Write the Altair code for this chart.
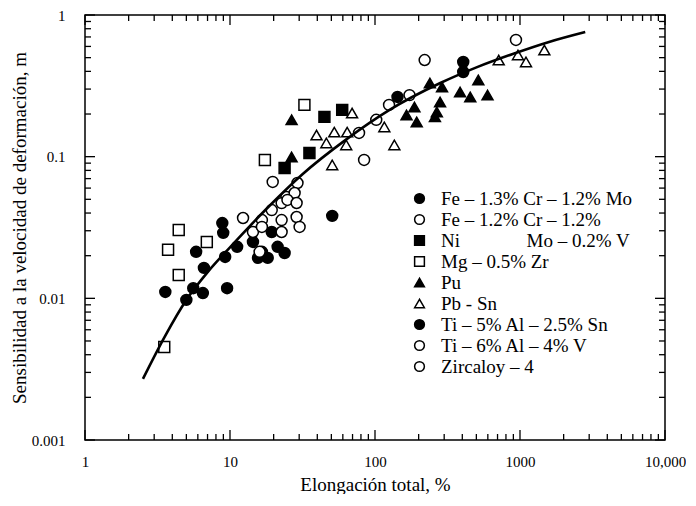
import altair as alt
import pandas as pd

# ---------------- data ----------------
series = [
    "Fe – 1.3% Cr – 1.2% Mo",
    "Fe – 1.2% Cr – 1.2%",
    "Ni" + "\u00a0" * 14 + "Mo – 0.2% V",
    "Mg – 0.5% Zr",
    "Pu",
    "Pb - Sn",
    "Ti – 5% Al – 2.5% Sn",
    "Ti – 6% Al – 4% V",
    "Zircaloy – 4",
]
shapes = ["circle", "circle", "square", "square", "triangle-up", "triangle-up",
          "circle", "circle", "circle"]
fills = ["black", "white", "black", "white", "black", "white", "black", "white", "white"]
strokes = ["black"] * 9

fe13_x = [3.58, 5.0, 5.58, 6.5, 6.61, 9.55, 5.84, 9.26, 8.85, 8.98, 11.2, 14.4,
          16.6, 19.4, 21.3, 18.2, 15.6, 23.8, 50.7]
fe13_y = [0.0111, 0.00975, 0.0118, 0.0109, 0.0164, 0.0118, 0.0213, 0.0196, 0.034,
          0.029, 0.0231, 0.025, 0.0213, 0.0294, 0.0231, 0.0193, 0.0193, 0.0209, 0.0382]

fe12_x = [77.6, 102, 125, 173]
fe12_y = [0.147, 0.182, 0.232, 0.272]

ni_x = [44.8, 59.4, 35.3, 23.8]
ni_y = [0.191, 0.214, 0.106, 0.0832]

mg_x = [32.6, 17.4, 4.43, 3.74, 4.43, 6.92, 3.52]
mg_y = [0.232, 0.0948, 0.0304, 0.022, 0.0146, 0.025, 0.00454]

pu_x = [26.6, 26.6, 239, 290, 386, 454, 516, 597, 281, 267, 187, 165, 194, 259]
pu_y = [0.182, 0.0995, 0.331, 0.31, 0.286, 0.264, 0.348, 0.272, 0.243, 0.207,
        0.224, 0.197, 0.176, 0.191]

pbsn_x = [39.5, 52.4, 64.3, 46.2, 63.3, 50.7, 69.5, 116, 136, 713, 968, 1100, 1472]
pbsn_y = [0.142, 0.149, 0.149, 0.125, 0.121, 0.0874, 0.203, 0.162, 0.121, 0.481,
          0.522, 0.466, 0.566]

ti5_x = [143, 406, 406]
ti5_y = [0.264, 0.466, 0.396]

ti6_x = [12.3, 16.6, 19.7, 29.2, 24.5, 27.9, 22.7, 24.9, 28.8, 19.4, 22.7, 28.8,
         30.2, 14.4, 16.6, 22.7, 16.0]
ti6_y = [0.0369, 0.0357, 0.0663, 0.0652, 0.052, 0.0554, 0.047, 0.0495, 0.0471,
         0.042, 0.0357, 0.0375, 0.0319, 0.0294, 0.0319, 0.0294, 0.0213]

zirc_x = [84.1, 220, 938]
zirc_y = [0.0948, 0.481, 0.667]

curve_x = [2.51, 3.55, 5.01, 7.08, 10, 17.8, 31.6, 63.1, 126, 282, 501, 891, 1585, 2818]
curve_y = [0.0027, 0.00537, 0.00977, 0.0155, 0.0229, 0.0427, 0.0752, 0.132, 0.214,
           0.331, 0.427, 0.531, 0.646, 0.759]

x_ticks = [1, 10, 100, 1000, 10000]
y_ticks = [0.001, 0.01, 0.1, 1]

# ---------------- tables ----------------
all_x = [fe13_x, fe12_x, ni_x, mg_x, pu_x, pbsn_x, ti5_x, ti6_x, zirc_x]
all_y = [fe13_y, fe12_y, ni_y, mg_y, pu_y, pbsn_y, ti5_y, ti6_y, zirc_y]
rows = []
for name, xs, ys in zip(series, all_x, all_y):
    for a, b in zip(xs, ys):
        rows.append({"x": a, "y": b, "series": name})
pts = pd.DataFrame(rows)
curve = pd.DataFrame({"x": curve_x, "y": curve_y})

minor_x = [k * d for d in x_ticks[:-1] for k in range(2, 10)]
minor_y = [k * d for d in y_ticks[:-1] for k in range(2, 10)]
xmaj = pd.DataFrame({"x": x_ticks})
xmin = pd.DataFrame({"x": minor_x})
ymaj = pd.DataFrame({"y": y_ticks})
ymin = pd.DataFrame({"y": minor_y})

W, H = 580, 425
FONT = "Liberation Serif"

xscale = alt.Scale(type="log", domain=[1, 10000], nice=False)
yscale = alt.Scale(type="log", domain=[0.001, 1], nice=False)

leg = alt.Legend(
    title=None, orient="none", legendX=325, legendY=174,
    labelFont=FONT, labelFontSize=19, labelColor="black", labelLimit=0,
    labelOffset=12, symbolSize=95, symbolStrokeColor="black",
    symbolStrokeWidth=1.5, rowPadding=1, padding=0,
)

points = alt.Chart(pts).mark_point(filled=True, size=120, strokeWidth=1.5,
                                   opacity=1).encode(
    x=alt.X("x:Q", scale=xscale, title="Elongación total, %",
            axis=alt.Axis(values=x_ticks, grid=False, domain=False, ticks=False,
                          labelExpr="datum.value >= 10000 ? '10,000' : format(datum.value, 'd')",
                          labelFont=FONT, labelFontSize=15, labelColor="black",
                          labelPadding=14, labelFlush=False,
                          titleFont=FONT, titleFontSize=19, titleFontWeight="normal",
                          titleColor="black", titlePadding=6)),
    y=alt.Y("y:Q", scale=yscale, title="Sensibilidad a la velocidad de deformación, m",
            axis=alt.Axis(values=y_ticks, grid=False, domain=False, ticks=False,
                          labelExpr="format(datum.value, '~g')",
                          labelFont=FONT, labelFontSize=15, labelColor="black",
                          labelPadding=20, labelFlush=False,
                          titleFont=FONT, titleFontSize=19, titleFontWeight="normal",
                          titleColor="black", titlePadding=2)),
    shape=alt.Shape("series:N", scale=alt.Scale(domain=series, range=shapes), legend=leg),
    fill=alt.Fill("series:N", scale=alt.Scale(domain=series, range=fills), legend=leg),
    stroke=alt.Stroke("series:N", scale=alt.Scale(domain=series, range=strokes), legend=leg),
)

line = alt.Chart(curve).mark_line(color="black", strokeWidth=2.6,
                                  interpolate="monotone").encode(
    x=alt.X("x:Q", scale=xscale), y=alt.Y("y:Q", scale=yscale))


def xticks(df, length):
    bottom = alt.Chart(df).mark_rule(color="black", strokeWidth=1.3).encode(
        x=alt.X("x:Q", scale=xscale), y=alt.value(H), y2=alt.value(H - length))
    top = alt.Chart(df).mark_rule(color="black", strokeWidth=1.3).encode(
        x=alt.X("x:Q", scale=xscale), y=alt.value(0), y2=alt.value(length))
    return [bottom, top]


def yticks(df, length):
    left = alt.Chart(df).mark_rule(color="black", strokeWidth=1.3).encode(
        y=alt.Y("y:Q", scale=yscale), x=alt.value(0), x2=alt.value(length))
    right = alt.Chart(df).mark_rule(color="black", strokeWidth=1.3).encode(
        y=alt.Y("y:Q", scale=yscale), x=alt.value(W), x2=alt.value(W - length))
    return [left, right]


layers = [points, line] + xticks(xmaj, 10) + xticks(xmin, 6) + yticks(ymaj, 10) + yticks(ymin, 6)

chart = alt.layer(*layers).properties(
    width=W, height=H,
    padding={"left": 2, "top": 0, "right": 0, "bottom": 0},
    background="white",
).configure_view(stroke="black", strokeWidth=1.5)

chart.save("out.html", embed_options={"renderer": "svg", "actions": False})
